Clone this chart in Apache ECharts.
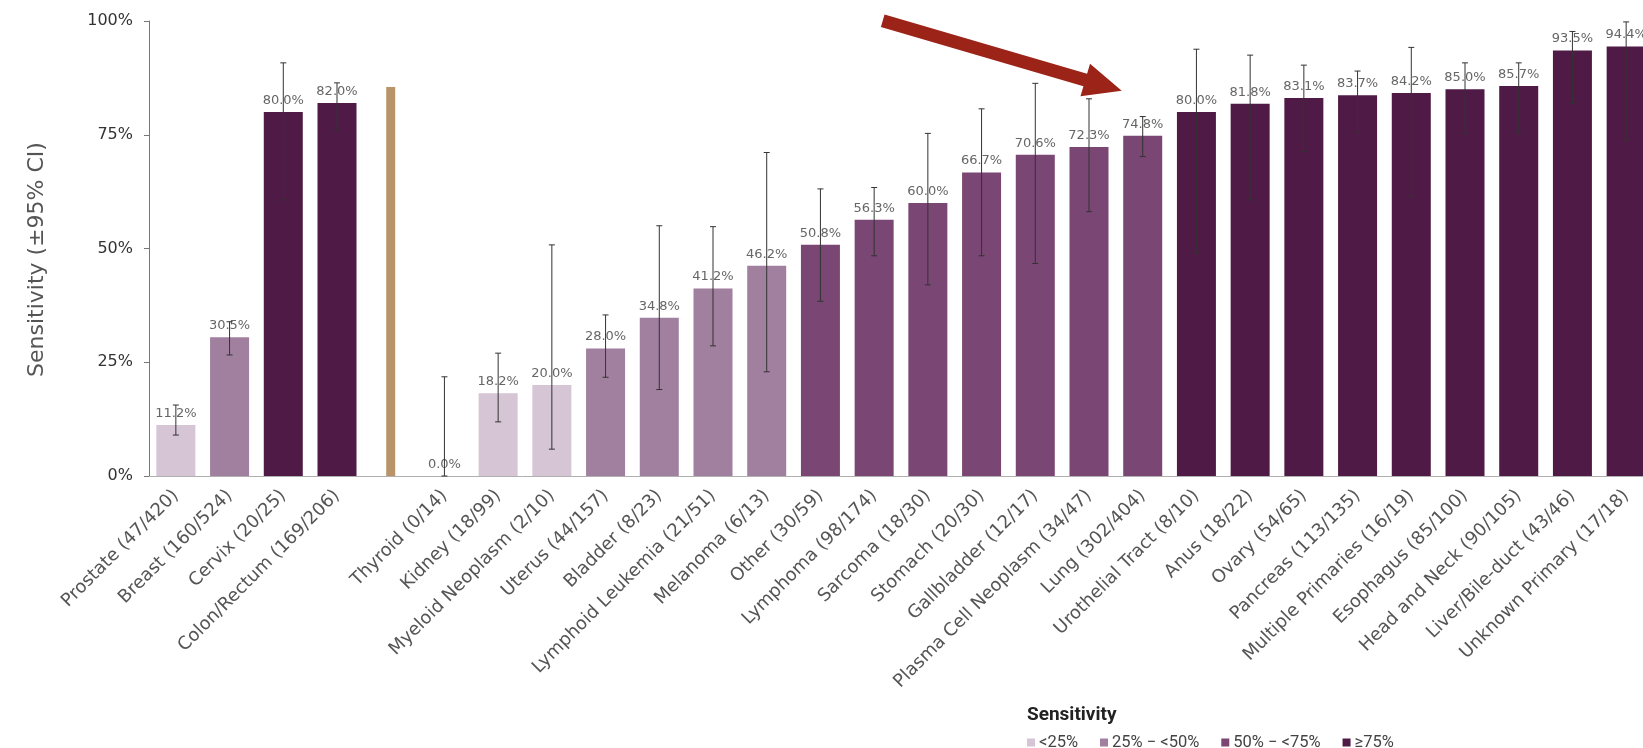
<!DOCTYPE html>
<html>
<head>
<meta charset="utf-8">
<script src="https://cdn.jsdelivr.net/npm/echarts@6/dist/echarts.min.js"></script>
<style>
html,body{margin:0;padding:0;background:#fff;overflow:hidden;}
#chart{width:1643px;height:748px;}
</style>
</head>
<body>
<div id="chart"></div>
<script>
// ---- data ----
const categories = ['Prostate (47/420)','Breast (160/524)','Cervix (20/25)','Colon/Rectum (169/206)','',
  'Thyroid (0/14)','Kidney (18/99)','Myeloid Neoplasm (2/10)','Uterus (44/157)','Bladder (8/23)',
  'Lymphoid Leukemia (21/51)','Melanoma (6/13)','Other (30/59)','Lymphoma (98/174)','Sarcoma (18/30)',
  'Stomach (20/30)','Gallbladder (12/17)','Plasma Cell Neoplasm (34/47)','Lung (302/404)','Urothelial Tract (8/10)',
  'Anus (18/22)','Ovary (54/65)','Pancreas (113/135)','Multiple Primaries (16/19)','Esophagus (85/100)',
  'Head and Neck (90/105)','Liver/Bile-duct (43/46)','Unknown Primary (17/18)'];
const sensitivity = [11.2,30.5,80.0,82.0,null,
  0.0,18.2,20.0,28.0,34.8,
  41.2,46.2,50.8,56.3,60.0,
  66.7,70.6,72.3,74.8,80.0,
  81.8,83.1,83.7,84.2,85.0,
  85.7,93.5,94.4];
const ciLow = [9.0,26.6,60.7,76.0,null,
  0.0,11.9,5.9,21.7,19.0,
  28.6,22.9,38.4,48.4,42.0,
  48.4,46.7,58.1,70.2,49.0,
  60.7,71.3,75.7,61.4,75.3,
  75.3,81.9,73.8];
const ciHigh = [15.6,33.9,90.8,86.4,null,
  21.8,27.0,50.8,35.4,55.0,
  54.8,71.1,63.1,63.4,75.3,
  80.7,86.3,82.9,79.0,93.8,
  92.5,90.3,89.0,94.2,90.8,
  90.8,97.7,99.8];
const dividerIndex = 4;
const dividerValue = 85.5;
const yTicks = [0,25,50,75,100];
const classNames = ['<25%','25% \u2212 <50%','50% \u2212 <75%','\u226575%'];
const classColors = ['#d5c5d5','#a17f9e','#7a4673','#4f1a46'];
const arrowTarget = 'Lung (302/404)';

// ---- build ----
const FONT = '"DejaVu Sans", Verdana, sans-serif';
function classOf(v){ return v < 25 ? 0 : v < 50 ? 1 : v < 75 ? 2 : 3; }
const classSeries = classNames.map((name, ci) => ({
  name: name,
  type: 'bar',
  stack: 'sens',
  xAxisIndex: 0,
  barWidth: 39,
  itemStyle: {color: classColors[ci]},
  label: {
    show: true, position: 'top', distance: 5,
    color: '#666', fontSize: 13, fontFamily: FONT,
    formatter: p => (p.value === '-' || p.value == null) ? '' : Number(p.value).toFixed(1) + '%'
  },
  data: sensitivity.map(v => (v == null || classOf(v) !== ci) ? '-' : v)
}));

const errData = [];
sensitivity.forEach((v, i) => { if (v != null) errData.push([i, ciLow[i], ciHigh[i]]); });

const dividerData = categories.map((c, i) => i === dividerIndex ? dividerValue : '-');

const chart = echarts.init(document.getElementById('chart'), null, {renderer: 'canvas'});
const option = {
  animation: false,
  backgroundColor: '#fff',
  textStyle: {fontFamily: FONT},
  title: {
    text: 'Sensitivity', left: 1022, top: 701,
    textStyle: {fontSize: 19, fontWeight: 'bold', color: '#222', fontFamily: 'Roboto, "Liberation Sans", sans-serif'}
  },
  legend: {
    data: classNames, left: 1022, top: 729,
    icon: 'rect', itemWidth: 8, itemHeight: 8, itemGap: 22,
    textStyle: {fontSize: 16.5, color: '#444', fontFamily: 'Roboto, "Liberation Sans", sans-serif', padding: [0,0,0,-1]}
  },
  grid: {left: 149, width: 1504, top: 21, bottom: 272, containLabel: false, outerBoundsMode: 'none'},
  xAxis: [{
    type: 'category', data: categories,
    axisLine: {lineStyle: {color: '#b0b0b0'}},
    axisTick: {show: false},
    axisLabel: {rotate: 45, interval: 0, fontSize: 18, color: '#555', margin: 17, fontFamily: FONT}
  }, {
    type: 'category', data: categories, show: false
  }],
  yAxis: {
    type: 'value', min: 0, max: 100, interval: 25,
    name: 'Sensitivity (\u00b195% CI)', nameLocation: 'middle', nameGap: 101,
    nameTextStyle: {fontSize: 22, color: '#555', fontFamily: FONT, padding: [0, 22, 0, 0]},
    axisLine: {show: true, lineStyle: {color: '#777'}},
    axisTick: {show: true, length: 5, lineStyle: {color: '#777'}},
    splitLine: {show: false},
    axisLabel: {formatter: v => yTicks.includes(v) ? v + '%' : '', fontSize: 16, color: '#333', margin: 16, fontFamily: FONT}
  },
  series: classSeries.concat([
    {
      name: 'divider', type: 'bar', xAxisIndex: 1, barWidth: 9,
      itemStyle: {color: '#b89468'}, data: dividerData, silent: true
    },
    {
      name: 'CI', type: 'custom', xAxisIndex: 0, z: 5,
      renderItem: function (params, api) {
        const x = api.value(0);
        const lo = api.coord([x, api.value(1)]);
        const hi = api.coord([x, api.value(2)]);
        const cap = 3;
        const style = {stroke: '#333', lineWidth: 1};
        return {type: 'group', children: [
          {type: 'line', shape: {x1: lo[0], y1: lo[1], x2: hi[0], y2: hi[1]}, style: style},
          {type: 'line', shape: {x1: hi[0]-cap, y1: hi[1], x2: hi[0]+cap, y2: hi[1]}, style: style},
          {type: 'line', shape: {x1: lo[0]-cap, y1: lo[1], x2: lo[0]+cap, y2: lo[1]}, style: style}
        ]};
      },
      encode: {x: 0, y: [1, 2]},
      data: errData
    }
  ])
};
chart.setOption(option);

// arrow annotation pointing at the Lung bar
const ti = categories.indexOf(arrowTarget);
const p = chart.convertToPixel({xAxisIndex: 0, yAxisIndex: 0}, [ti, sensitivity[ti]]);
const tip = [p[0] - 21, p[1] - 45];
const start = [tip[0] - 239, tip[1] - 70];
const dx = tip[0]-start[0], dy = tip[1]-start[1];
const L = Math.sqrt(dx*dx+dy*dy);
const u = [dx/L, dy/L], n = [-u[1], u[0]];
const headLen = 38, sw = 6.5, hw = 17;
const base = [tip[0]-u[0]*headLen, tip[1]-u[1]*headLen];
const pts = [
  [start[0]+n[0]*sw, start[1]+n[1]*sw],
  [base[0]+n[0]*sw, base[1]+n[1]*sw],
  [base[0]+n[0]*hw, base[1]+n[1]*hw],
  tip,
  [base[0]-n[0]*hw, base[1]-n[1]*hw],
  [base[0]-n[0]*sw, base[1]-n[1]*sw],
  [start[0]-n[0]*sw, start[1]-n[1]*sw]
];
chart.setOption({graphic: [{type: 'polygon', shape: {points: pts}, style: {fill: '#9b2317'}, z: 100}]});
</script>
</body>
</html>
